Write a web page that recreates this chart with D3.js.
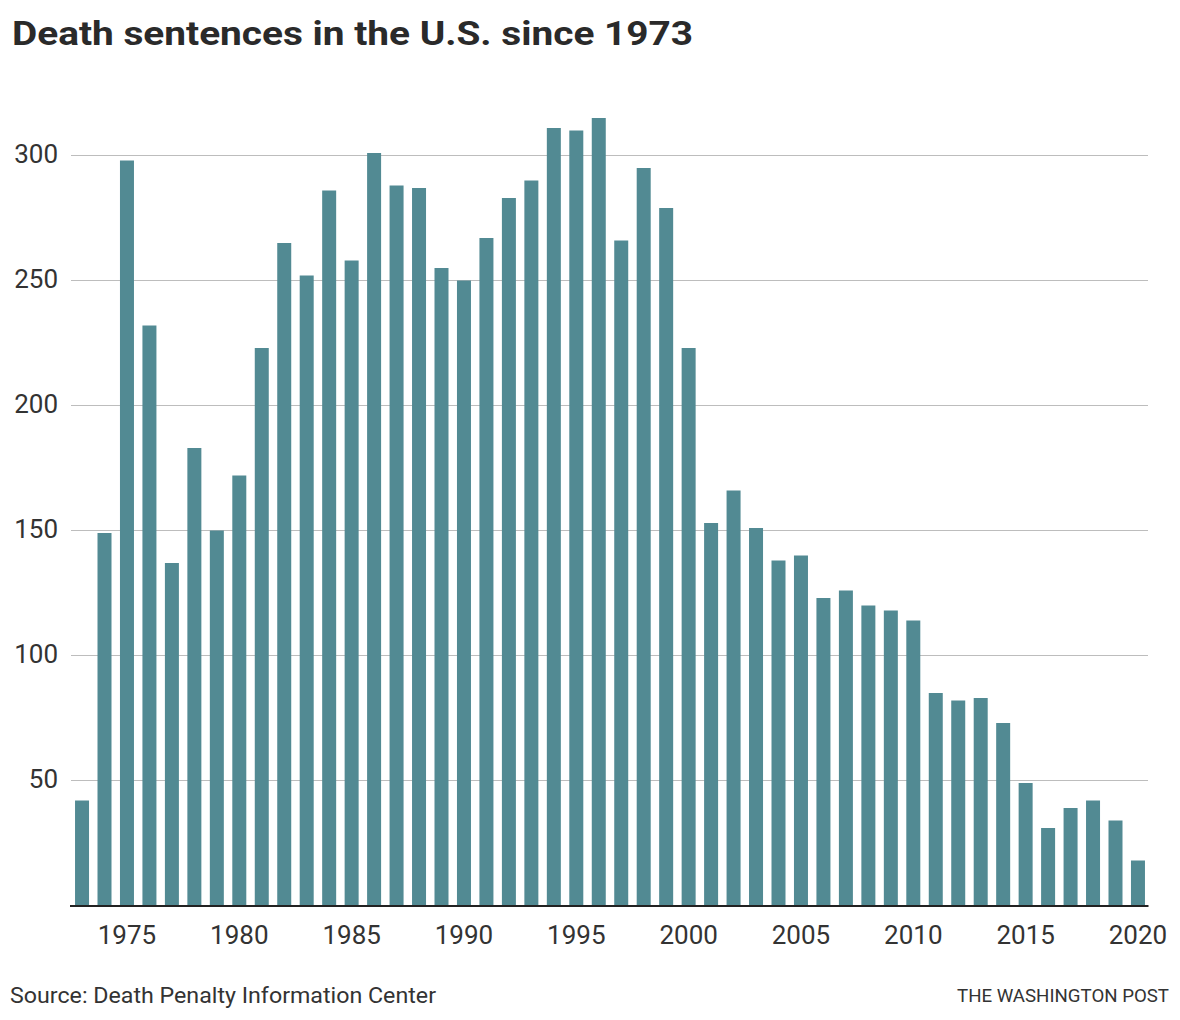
<!DOCTYPE html>
<html>
<head>
<meta charset="utf-8">
<script src="https://cdn.jsdelivr.net/npm/d3@7"></script>
<style>
  html, body { margin: 0; padding: 0; background: #fff; }
  svg { display: block; }
</style>
</head>
<body>
<svg id="chart" width="1180" height="1020"></svg>
<script>
const years = d3.range(1973, 2021);
const sentences = [42, 149, 298, 232, 137, 183, 150, 172, 223, 265,
                   252, 286, 258, 301, 288, 287, 255, 250, 267, 283,
                   290, 311, 310, 315, 266, 295, 279, 223, 153, 166,
                   151, 138, 140, 123, 126, 120, 118, 114, 85, 82,
                   83, 73, 49, 31, 39, 42, 34, 18];
const yTicks = [50, 100, 150, 200, 250, 300];
const xTickYears = [1975, 1980, 1985, 1990, 1995, 2000, 2005, 2010, 2015, 2020];
const titleText = "Death sentences in the U.S. since 1973";
const sourceText = "Source: Death Penalty Information Center";
const creditText = "THE WASHINGTON POST";

const data = years.map((y, i) => ({ year: y, value: sentences[i] }));

const svg = d3.select("#chart");
const font = "Roboto, 'Liberation Sans', sans-serif";

const x = d3.scaleBand()
  .domain(years)
  .range([70.8, 1149.2])
  .paddingInner(0.377)
  .paddingOuter(0.1885);

const y = d3.scaleLinear().domain([0, 300]).range([905.5, 155.5]);

// title
svg.append("text")
  .attr("x", 12).attr("y", 45)
  .attr("font-family", font).attr("font-weight", 700)
  .attr("font-size", 33).attr("fill", "#2a2a2a")
  .attr("textLength", 681).attr("lengthAdjust", "spacingAndGlyphs")
  .text(titleText);

// gridlines
svg.append("g").selectAll("line").data(yTicks).join("line")
  .attr("x1", 71).attr("x2", 1148)
  .attr("y1", d => y(d)).attr("y2", d => y(d))
  .attr("stroke", "#bdbdbd").attr("stroke-width", 1);

// y labels
svg.append("g").selectAll("text").data(yTicks).join("text")
  .attr("x", 58).attr("y", d => y(d) + 1)
  .attr("text-anchor", "end").attr("dominant-baseline", "middle")
  .attr("font-family", font).attr("font-size", 26).attr("fill", "#333")
  .text(d => d);

// bars
const bw = x.bandwidth();
svg.append("g").selectAll("rect").data(data).join("rect")
  .attr("x", d => x(d.year))
  .attr("width", bw)
  .attr("y", d => y(d.value))
  .attr("height", d => y(0) - y(d.value))
  .attr("fill", "#528a93");

// baseline axis
svg.append("line")
  .attr("x1", 70).attr("x2", 1148.5)
  .attr("y1", 906).attr("y2", 906)
  .attr("stroke", "#222").attr("stroke-width", 2.2);

// x labels
svg.append("g").selectAll("text").data(xTickYears).join("text")
  .attr("x", d => x(d) + bw / 2)
  .attr("y", 944)
  .attr("text-anchor", "middle")
  .attr("font-family", font).attr("font-size", 26).attr("fill", "#333")
  .text(d => d);

// source
svg.append("text")
  .attr("x", 10).attr("y", 1003)
  .attr("font-family", font).attr("font-size", 21.5).attr("fill", "#333")
  .attr("textLength", 426).attr("lengthAdjust", "spacingAndGlyphs")
  .text(sourceText);

// credit
svg.append("text")
  .attr("x", 957).attr("y", 1002)
  .attr("font-family", font).attr("font-size", 19).attr("fill", "#333")
  .attr("textLength", 212).attr("lengthAdjust", "spacingAndGlyphs")
  .text(creditText);
</script>
</body>
</html>
